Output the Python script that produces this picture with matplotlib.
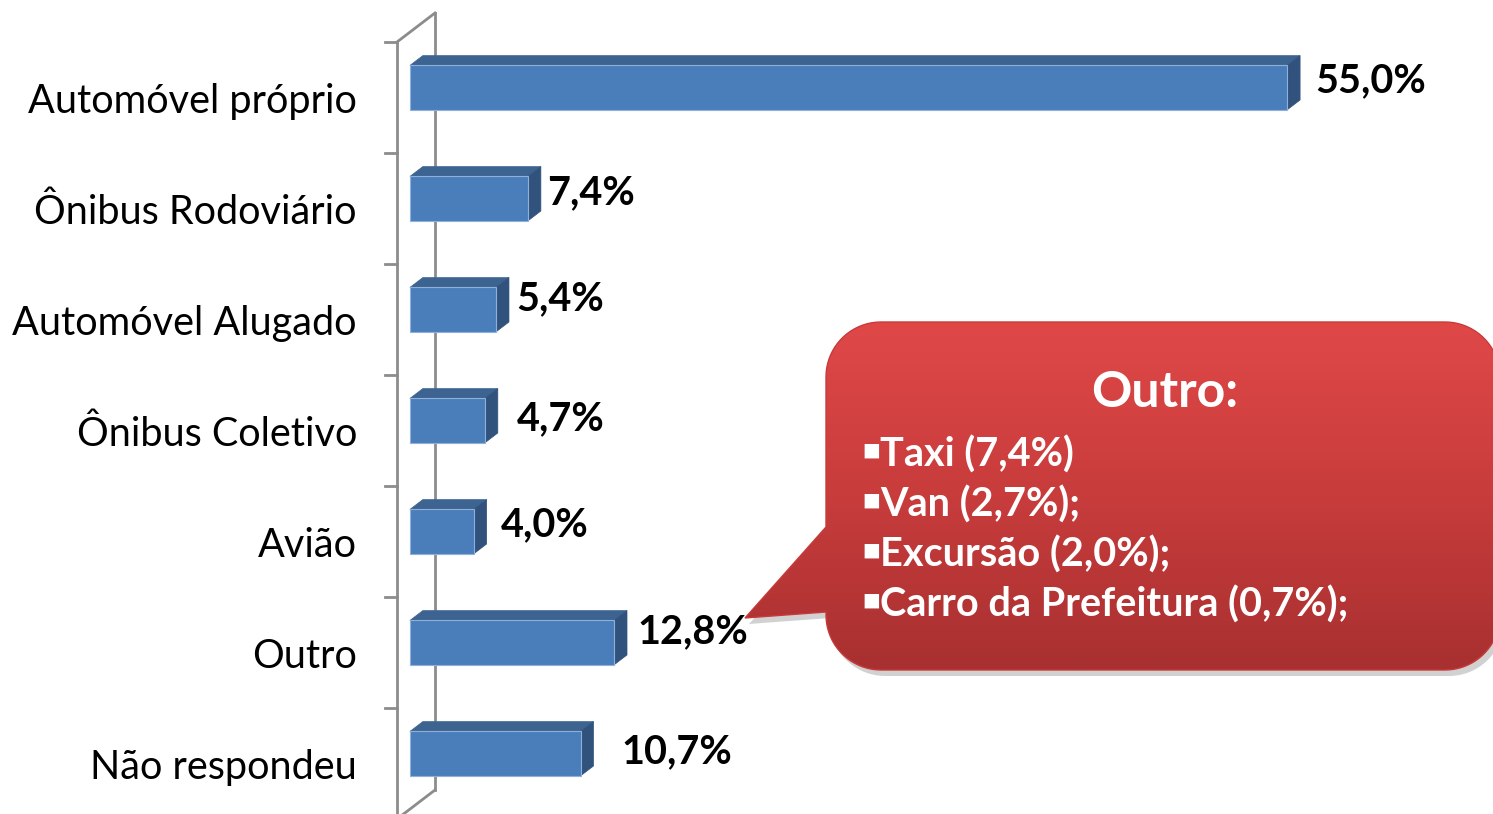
import numpy as np
import matplotlib
matplotlib.use("Agg")
import matplotlib.pyplot as plt
from matplotlib.patches import Polygon, PathPatch
from matplotlib.path import Path

plt.rcParams['font.family'] = ['Lato', 'DejaVu Sans']

# Meio de transporte utilizado
categorias = ["Automóvel próprio", "Ônibus Rodoviário", "Automóvel Alugado",
              "Ônibus Coletivo", "Avião", "Outro", "Não respondeu"]
valores = [55.0, 7.4, 5.4, 4.7, 4.0, 12.8, 10.7]
# posicao dos rotulos (x em %, deslocamento da linha de base) como no original
rot_x = [57.6, 9.4, 7.5, 7.5, 6.5, 15.1, 14.1]
rot_dy = [-0.05, -0.04, -0.08, 0.0, -0.045, -0.08, 0.0]

W, H = 1493, 814
fig = plt.figure(figsize=(W / 100, H / 100), dpi=100)
ax = fig.add_axes([0, 0, 1, 1])
px_pct = 15.95   # pixels per %
px_cat = 111.0   # pixels per categoria
ax.set_xlim(-397 / px_pct, (W - 397) / px_pct)
ax.set_ylim((H - 97.5) / px_cat, -97.5 / px_cat)
ax.axis('off')

# profundidade 3D (projecao obliqua)
DX = 38 / px_pct
DY = -29 / px_cat
z0, z1 = 0.34, 0.68
hb = 0.2

frente = '#4a7ebb'
topo = '#3d6491'
lado = '#31527c'
cinza = '#8c8c8c'

# parede / eixo
n = len(categorias)
ax.plot([0, 0], [-0.5, n - 0.5], color=cinza, lw=2, zorder=1)
ax.plot([DX, DX], [-0.5 + DY, n - 0.5 + DY], color=cinza, lw=2, zorder=1)
ax.plot([0, DX], [-0.5, -0.5 + DY], color=cinza, lw=2, zorder=1)
ax.plot([0, DX], [n - 0.5, n - 0.5 + DY], color=cinza, lw=2, zorder=1)
for k in range(n + 1):
    ax.plot([-12 / px_pct, 0], [k - 0.5, k - 0.5], color=cinza, lw=2, zorder=1)

y = np.arange(n)
ax.barh(y + z0 * DY, valores, height=2 * hb, left=z0 * DX, color=frente,
        edgecolor='#8fb0d8', linewidth=0.8, zorder=3)
for i, v in enumerate(valores):
    x0 = z0 * DX
    x1 = v + z0 * DX
    yt = i - hb + z0 * DY
    yb = i + hb + z0 * DY
    ddx = (z1 - z0) * DX
    ddy = (z1 - z0) * DY
    ax.add_patch(Polygon([(x0, yt), (x1, yt), (x1 + ddx, yt + ddy), (x0 + ddx, yt + ddy)],
                         closed=True, fc=topo, ec=topo, lw=0.5, zorder=2))
    ax.add_patch(Polygon([(x1, yt), (x1 + ddx, yt + ddy), (x1 + ddx, yb + ddy), (x1, yb)],
                         closed=True, fc=lado, ec=lado, lw=0.5, zorder=2))
    ax.text(rot_x[i], i + rot_dy[i], f"{v:.1f}%".replace('.', ','), ha='left', va='baseline',
            fontsize=28.5, fontweight='bold', color='black', zorder=5)
    ax.text(-40 / px_pct, i + 0.14, categorias[i], ha='right', va='baseline',
            fontsize=28.5, color='black', zorder=5)

# balao "Outro"
ov = fig.add_axes([0, 0, 1, 1], facecolor='none')
ov.set_xlim(0, W)
ov.set_ylim(H, 0)
ov.axis('off')

L, R, T, B, r = 826, 1500, 322, 670, 55
def arco(cx, cy, a0, a1):
    t = np.radians(np.linspace(a0, a1, 20))
    return list(zip(cx + r * np.cos(t), cy + r * np.sin(t)))

pts = []
pts += arco(L + r, T + r, 180, 270)
pts += arco(R - r, T + r, 270, 360)
pts += arco(R - r, B - r, 0, 90)
pts += arco(L + r, B - r, 90, 180)
pts += [(L, 612), (745, 618), (L, 527)]
pts.append(pts[0])
codes = [Path.MOVETO] + [Path.LINETO] * (len(pts) - 2) + [Path.CLOSEPOLY]
caminho = Path(pts, codes)

sombra = Path(np.array(pts) + [4, 6], codes)
ov.add_patch(PathPatch(sombra, fc='#000000', ec='none', alpha=0.18, zorder=1))
balao = PathPatch(caminho, fc='none', ec='#c83a3a', lw=1, zorder=3)
ov.add_patch(balao)
grad = np.linspace(0, 1, 256).reshape(-1, 1)
cmap = matplotlib.colors.LinearSegmentedColormap.from_list('v', ['#e04848', '#c83c3c', '#a83030'])
img = ov.imshow(grad, cmap=cmap, extent=[740, 1500, B, T], aspect='auto', zorder=2)
img.set_clip_path(balao)

ov.text(1165, 407, "Outro:", ha='center', va='baseline', fontsize=36,
        fontweight='bold', color='white', zorder=4)
itens = ["Taxi (7,4%)", "Van (2,7%);", "Excursão (2,0%);", "Carro da Prefeitura (0,7%);"]
for k, s in enumerate(itens):
    yb = 467 + 50 * k
    ov.text(871, yb - 16, "\u25aa", ha='center', va='center', fontsize=21,
            color='white', family=['DejaVu Sans'], zorder=4)
    ov.text(880, yb, s, ha='left', va='baseline', fontsize=28.5,
            fontweight='bold', color='white', zorder=4)

fig.savefig('out.png', dpi=100)
